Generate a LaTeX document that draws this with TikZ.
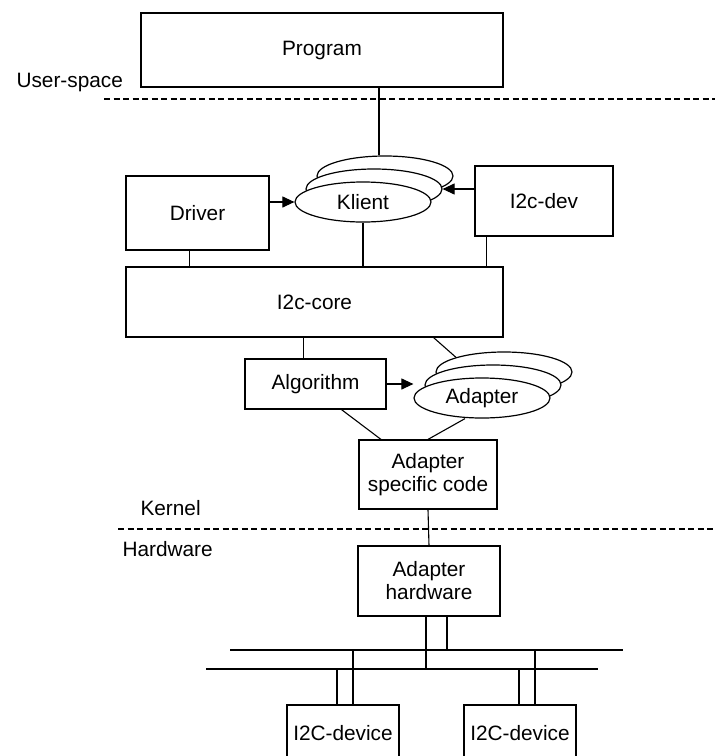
\documentclass[tikz,border=0pt]{standalone}
\usepackage{fontspec}
\setmainfont{Liberation Sans}
\usetikzlibrary{arrows.meta,shapes.geometric}
\def\ellstack#1(#2,#3)#4{%
	\node[stk] (#13) at (#2+22, #3-26) {};
	\node[stk] (#12) at (#2+11, #3-13) {};
	\node[stk] (#11) at (#2, #3) {#4};
}
\tikzset{
	box/.style={draw, line width=1.2pt, fill=white, align=center, inner sep=0pt},
	stk/.style={draw, ellipse, line width=1.2pt, fill=white, minimum width=136pt, minimum height=40pt, inner sep=0pt},
	lnk/.style={line width=1.1pt},
	arr/.style={line width=1.1pt, -{Triangle[length=12pt,width=11pt]}},
	sep/.style={line width=1.1pt, dash pattern=on 6pt off 3.5pt},
}

\begin{document}
\begin{tikzpicture}[x=1pt, y=-1pt, font=\fontsize{20.8}{23}\selectfont]
		%%%%% START %%%%%
		\useasboundingbox (0,0) rectangle (715,756);
		\clip (0,0) rectangle (715,756);
		
		\node[box, minimum width=362pt, minimum height=74pt] (prog) at (322,50) {Program};
		\node[anchor=base west] (user) at (13,87) {User-space};
		\coordinate (usr0) at (104,99);
		\coordinate (usr1) at (715,99);
		\draw[sep] (usr0) -- (usr1);
		
		\node[box, minimum width=143pt, minimum height=74pt] (driver) at (197.5,213) {Driver};
		\node[box, minimum width=138pt, minimum height=70pt] (dev) at (544,201) {I2c-dev};
		\ellstack klient(363,202){Klient}
		\node[box, minimum width=377pt, minimum height=70pt] (core) at (314.5,302) {I2c-core};
		
		\node[box, minimum width=141pt, minimum height=50pt] (alg) at (315.5,384) {Algorithm};
		\ellstack adapter(482,398){Adapter}
		\node[box, minimum width=138pt, minimum height=69pt] (spec) at (428,474.5) {Adapter\\specific code};
		
		\node[anchor=base west] (kern) at (137,515) {Kernel};
		\coordinate (krn0) at (118,529);
		\coordinate (krn1) at (715,529);
		\draw[sep] (krn0) -- (krn1);
		\node[anchor=base west] (hard) at (119,556) {Hardware};
		
		\node[box, minimum width=142pt, minimum height=70pt] (hw) at (429,581) {Adapter\\hardware};
		\node[box, minimum width=112pt, minimum height=56pt] (dev1) at (343,733) {I2C-device};
		\node[box, minimum width=112pt, minimum height=56pt] (dev2) at (520,733) {I2C-device};
		
		% bus
		\coordinate (busA1) at (230,650);
		\coordinate (busA2) at (623,650);
		\coordinate (busB1) at (206,669);
		\coordinate (busB2) at (598,669);
		\draw[lnk] (busA1) -- (busA2);
		\draw[lnk] (busB1) -- (busB2);
		
		\draw[lnk] ([xshift=-6pt]klient3.north |- prog.south) -- ([xshift=-6pt]klient3.north);
		\draw[arr] (driver.east |- klient1.west) -- (klient1.west);
		\draw[arr] (dev.west |- klient2.east) -- (klient2.east);
		\draw[lnk] ([xshift=-8pt]driver.south) -- ([xshift=-8pt]driver.south |- core.north);
		\draw[lnk] (klient1.south) -- (klient1.south |- core.north);
		\draw[lnk] ([xshift=12pt]dev.south west) -- ([xshift=12pt]dev.south west |- core.north);
		
		\draw[lnk] ([xshift=-12pt]alg.north) -- ([xshift=-12pt]alg.north |- core.south);
		\draw[lnk] ([xshift=-70pt]core.south east) -- (adapter3.163);
		\draw[arr] (alg.east) -- (alg.east -| adapter1.west);
		\draw[lnk] ([xshift=26pt]alg.south) -- ([xshift=-47pt]spec.north);
		\draw[lnk] ([xshift=-17pt]adapter1.south) -- (spec.north);
		\draw[lnk] (spec.south) -- (hw.north);
		
		\draw[lnk] ([xshift=-3pt]hw.south) -- ([xshift=-3pt]hw.south |- busB1);
		\draw[lnk] ([xshift=18pt]hw.south) -- ([xshift=18pt]hw.south |- busA1);
		\draw[lnk] ([xshift=-6pt]dev1.north) -- ([xshift=-6pt]dev1.north |- busB1);
		\draw[lnk] ([xshift=10pt]dev1.north) -- ([xshift=10pt]dev1.north |- busA1);
		\draw[lnk] ([xshift=-1pt]dev2.north) -- ([xshift=-1pt]dev2.north |- busB1);
		\draw[lnk] ([xshift=15pt]dev2.north) -- ([xshift=15pt]dev2.north |- busA1);
		%%%%% END %%%%%
\end{tikzpicture}
\end{document}
